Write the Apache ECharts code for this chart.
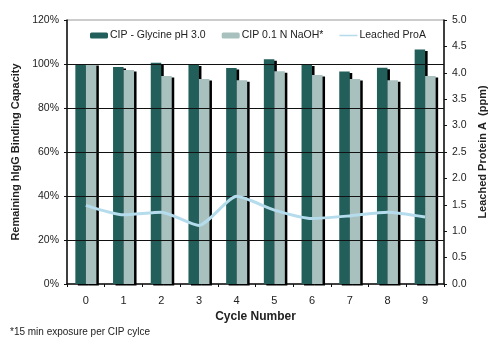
<!DOCTYPE html>
<html>
<head>
<meta charset="utf-8">
<script src="https://cdn.jsdelivr.net/npm/echarts@6/dist/echarts.min.js"></script>
<style>
  html, body { margin: 0; padding: 0; background: #fff; }
  #chart { width: 499px; height: 349px; }
</style>
</head>
<body>
<div id="chart"></div>
<script>
// Cycle numbers on the x axis
const cycles = ['0', '1', '2', '3', '4', '5', '6', '7', '8', '9'];
// Remaining binding capacity (%) after each CIP cycle
const glycine = [100, 98.6, 100.6, 99.8, 98.2, 102.2, 99.8, 96.6, 98.3, 106.6];
const naoh = [100, 97.3, 94.6, 93.2, 92.6, 96.7, 95.0, 93.2, 92.6, 94.6];
// Leached Protein A (ppm)
const leached = [1.49, 1.31, 1.36, 1.11, 1.66, 1.40, 1.24, 1.29, 1.36, 1.27];
// Inner horizontal gridlines of the capacity axis (fractions of 100%)
const capacityGrid = [0.2, 0.4, 0.6, 0.8, 1.0];

const seriesNames = ['CIP - Glycine pH 3.0', 'CIP 0.1 N NaOH*', 'Leached ProA'];
const FONT = '"Liberation Sans", Arial, sans-serif';

const chart = echarts.init(document.getElementById('chart'), null, { renderer: 'canvas' });

const barShadow = {
  shadowColor: '#000',
  shadowBlur: 0,
  shadowOffsetX: 2.5,
  shadowOffsetY: 1.5
};

// thin horizontal stroke inside an 18x6 box, used as the legend mark of the line
const lineIcon = 'path://M0,0 L0.01,0 Z M0,2.3 L18,2.3 L18,3.7 L0,3.7 Z M17.99,6 L18,6 Z';

chart.setOption({
  animation: false,
  backgroundColor: '#fff',
  textStyle: { fontFamily: FONT, color: '#222' },
  grid: {
    left: 67, right: 55, top: 20, bottom: 65, containLabel: false,
    show: true, borderColor: '#999', borderWidth: 1, backgroundColor: 'transparent'
  },
  legend: {
    left: 90,
    top: 30,
    padding: 0,
    itemWidth: 18,
    itemHeight: 6,
    itemGap: 16,
    textStyle: { fontFamily: FONT, fontSize: 10.5, color: '#222', padding: [0, 0, 0, -3] },
    data: [
      { name: seriesNames[0], itemStyle: { shadowOffsetX: 0, shadowOffsetY: 0 } },
      { name: seriesNames[1], itemStyle: { shadowOffsetX: 0, shadowOffsetY: 0 } },
      { name: seriesNames[2], icon: lineIcon, itemStyle: { color: '#b5dcec' } }
    ]
  },
  graphic: [
    {
      type: 'text',
      left: 10,
      top: 327,
      style: {
        text: '*15 min exposure per CIP cylce',
        font: '10px ' + FONT,
        fill: '#222'
      }
    }
  ],
  xAxis: {
    type: 'category',
    data: cycles,
    name: 'Cycle Number',
    nameLocation: 'middle',
    nameGap: 26,
    nameTextStyle: { fontFamily: FONT, fontSize: 12, fontWeight: 'bold', color: '#222' },
    axisLine: { lineStyle: { color: '#111', width: 1.5 } },
    axisTick: { show: true, length: 3, lineStyle: { color: '#111' } },
    axisLabel: { margin: 11, fontSize: 11, color: '#222', fontFamily: FONT },
    splitLine: { show: false }
  },
  yAxis: [
    {
      type: 'value',
      min: 0,
      max: 1.2,
      interval: 0.2,
      position: 'left',
      name: 'Remaining hIgG Binding Capacity',
      nameLocation: 'middle',
      nameRotate: 90,
      nameGap: 38,
      nameTextStyle: { fontFamily: FONT, fontSize: 11, fontWeight: 'bold', color: '#222' },
      axisLine: { show: true, lineStyle: { color: '#111', width: 1.5 } },
      axisTick: { show: true, length: 3, lineStyle: { color: '#111' } },
      axisLabel: {
        margin: 8,
        fontSize: 10.5,
        color: '#222',
        fontFamily: FONT,
        formatter: v => Math.round(v * 100) + '%'
      },
      splitLine: { show: false }
    },
    {
      type: 'value',
      min: 0,
      max: 5,
      interval: 0.5,
      position: 'right',
      name: 'Leached Protein A  (ppm)',
      nameLocation: 'middle',
      nameRotate: 90,
      nameGap: 26,
      nameTextStyle: { fontFamily: FONT, fontSize: 11, fontWeight: 'bold', color: '#222' },
      axisLine: { show: true, lineStyle: { color: '#111', width: 1.5 } },
      axisTick: { show: true, length: 3, lineStyle: { color: '#111' } },
      axisLabel: {
        margin: 8,
        fontSize: 10.5,
        color: '#222',
        fontFamily: FONT,
        formatter: v => v.toFixed(1)
      },
      splitLine: { show: false }
    }
  ],
  series: [
    {
      // carrier for the horizontal gridlines, kept beneath the bars
      name: 'gridlines',
      type: 'line',
      yAxisIndex: 0,
      data: [],
      z: 1,
      silent: true,
      markLine: {
        silent: true,
        symbol: ['none', 'none'],
        label: { show: false },
        lineStyle: { color: '#111', type: 'solid', width: 1.2 },
        data: capacityGrid.map(v => ({ yAxis: v }))
      }
    },
    {
      name: seriesNames[0],
      type: 'bar',
      yAxisIndex: 0,
      data: glycine.map(v => v / 100),
      barWidth: 10.5,
      barGap: '0%',
      z: 2,
      itemStyle: Object.assign({ color: '#225f5b' }, barShadow)
    },
    {
      name: seriesNames[1],
      type: 'bar',
      yAxisIndex: 0,
      data: naoh.map(v => v / 100),
      barWidth: 10.5,
      barGap: '0%',
      z: 2,
      itemStyle: Object.assign({ color: '#a9c1be' }, barShadow)
    },
    {
      name: seriesNames[2],
      type: 'line',
      yAxisIndex: 1,
      data: leached,
      symbol: 'none',
      smooth: 0.2,
      z: 5,
      lineStyle: { color: '#b5dcec', width: 3 },
      itemStyle: { color: '#b5dcec' }
    }
  ]
});
</script>
</body>
</html>
